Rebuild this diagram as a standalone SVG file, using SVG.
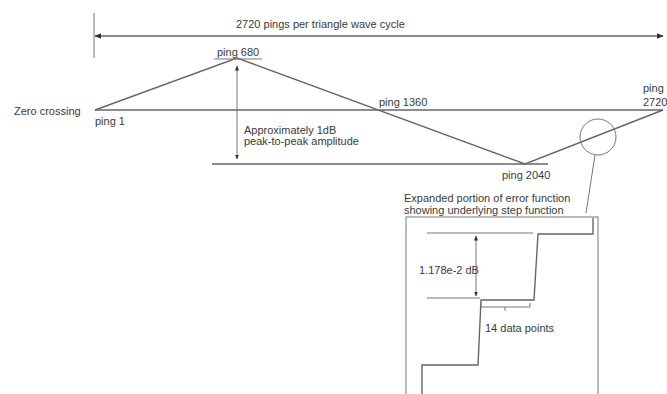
<svg xmlns="http://www.w3.org/2000/svg" width="667" height="394" viewBox="0 0 667 394">
<style>
text{font-family:"Liberation Sans",Arial,sans-serif;font-size:11px;fill:#3a3a3a}
.ln{stroke:#666;stroke-width:1.4;fill:none}
.th{stroke:#777;stroke-width:1;fill:none}
</style>
<defs>
<marker id="ah" viewBox="0 0 10 10" refX="9" refY="5" markerWidth="5" markerHeight="5" orient="auto-start-reverse"><path d="M0,1 L10,5 L0,9 z" fill="#333"/></marker>
</defs>
<rect width="667" height="394" fill="#fff"/>
<g id="cycle">
<line class="th" x1="94" y1="13" x2="94" y2="58"/>
<line class="ln" x1="95" y1="36" x2="663" y2="36" marker-start="url(#ah)" marker-end="url(#ah)"/>
<text x="236" y="28">2720 pings per triangle wave cycle</text>
</g>
<g id="wave">
<line class="ln" x1="95" y1="110" x2="663" y2="110"/>
<line class="ln" x1="212" y1="164" x2="548" y2="164"/>
<polyline class="ln" points="95,110 237,58 525,164 663,110"/>
<line class="th" x1="214" y1="59" x2="262" y2="59"/>
<text x="14" y="115">Zero crossing</text>
<text x="95" y="125">ping 1</text>
<text x="217" y="56">ping 680</text>
<text x="379" y="106">ping 1360</text>
<text x="502" y="179">ping 2040</text>
<text x="643" y="92">ping</text>
<text x="643" y="106">2720</text>
</g>
<g id="amplitude">
<line class="th" x1="237" y1="66" x2="237" y2="159" marker-start="url(#ah)" marker-end="url(#ah)"/>
<text x="244" y="134">Approximately 1dB</text>
<text x="244" y="145">peak-to-peak amplitude</text>
</g>
<g id="zoom">
<circle class="th" cx="598" cy="137" r="18"/>
<line class="th" x1="595" y1="155" x2="586" y2="213"/>
<text x="404" y="202">Expanded portion of error function</text>
<text x="404" y="214">showing underlying step function</text>
<rect class="th" x="406" y="217" width="192" height="190"/>
<polyline class="ln" points="593,218 593,234 538,234 534,300 481,300 478,365 422,365 422,394"/>
<line class="th" x1="427" y1="233" x2="533" y2="233"/>
<line class="th" x1="427" y1="298" x2="480" y2="298"/>
<line class="th" x1="476" y1="236" x2="476" y2="296" marker-start="url(#ah)" marker-end="url(#ah)"/>
<text x="419" y="274">1.178e-2 dB</text>
<path class="th" d="M481,303 V307 H530 V303 M505,307 V311"/>
<text x="485" y="332">14 data points</text>
</g>
</svg>
